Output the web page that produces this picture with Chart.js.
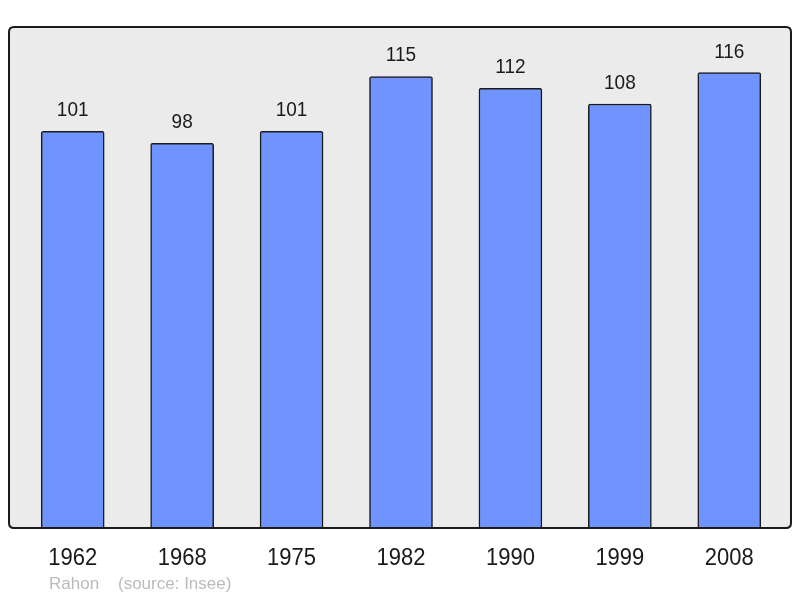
<!DOCTYPE html>
<html>
<head>
<meta charset="utf-8">
<script src="https://cdn.jsdelivr.net/npm/chart.js@4.4.1/dist/chart.umd.min.js"></script>
<style>
  html, body { margin: 0; padding: 0; background: #fff; }
  #chart { display: block; }
</style>
</head>
<body>
<canvas id="chart" width="800" height="598"></canvas>
<script>
// data
const years = ['1962', '1968', '1975', '1982', '1990', '1999', '2008'];
const population = [101, 98, 101, 115, 112, 108, 116];
const commune = 'Rahon';
const source = '(source: Insee)';

const yMax = Math.max(...population) * 1.1;

// stretched text, the original labels are a bit taller than wide
function drawText(ctx, txt, x, y, sy) {
  ctx.save();
  ctx.translate(x, y);
  ctx.scale(1, sy);
  ctx.fillText(txt, 0, 0);
  ctx.restore();
}

function roundRect(ctx, x, y, w, h, r) {
  ctx.beginPath();
  ctx.moveTo(x + r, y);
  ctx.lineTo(x + w - r, y);
  ctx.quadraticCurveTo(x + w, y, x + w, y + r);
  ctx.lineTo(x + w, y + h - r);
  ctx.quadraticCurveTo(x + w, y + h, x + w - r, y + h);
  ctx.lineTo(x + r, y + h);
  ctx.quadraticCurveTo(x, y + h, x, y + h - r);
  ctx.lineTo(x, y + r);
  ctx.quadraticCurveTo(x, y, x + r, y);
  ctx.closePath();
}

const framePlugin = {
  id: 'frame',
  beforeDatasetsDraw(chart) {
    const { ctx, chartArea: a } = chart;
    ctx.save();
    roundRect(ctx, a.left - 9, a.top, a.right - a.left + 16, a.bottom - a.top, 5);
    ctx.fillStyle = '#ebebeb';
    ctx.fill();
    ctx.restore();
  },
  afterDatasetsDraw(chart) {
    const { ctx, chartArea: a } = chart;
    const xs = chart.scales.x;
    const ys = chart.scales.y;
    ctx.save();
    roundRect(ctx, a.left - 9, a.top, a.right - a.left + 16, a.bottom - a.top, 5);
    ctx.strokeStyle = '#1a1a1a';
    ctx.lineWidth = 2;
    ctx.stroke();

    ctx.fillStyle = '#1a1a1a';
    ctx.textAlign = 'center';
    ctx.textBaseline = 'alphabetic';
    // values above bars
    ctx.font = '19px "Liberation Sans", Arial, sans-serif';
    population.forEach((v, i) => {
      drawText(ctx, String(v), xs.getPixelForValue(i), ys.getPixelForValue(v) - 15, 1.06);
    });
    // year labels
    ctx.font = '22px "Liberation Sans", Arial, sans-serif';
    years.forEach((y, i) => {
      drawText(ctx, y, xs.getPixelForValue(i), a.bottom + 37, 1.08);
    });
    // footer
    ctx.fillStyle = '#bbbbbb';
    ctx.textAlign = 'left';
    ctx.font = '17px "Liberation Sans", Arial, sans-serif';
    ctx.fillText(commune, 49, 589);
    ctx.fillText(source, 118, 589);
    ctx.restore();
  }
};

new Chart(document.getElementById('chart'), {
  type: 'bar',
  data: {
    labels: years,
    datasets: [{
      data: population,
      backgroundColor: '#7094ff',
      borderColor: '#1a1a1a',
      borderWidth: 1.5,
      borderSkipped: 'bottom',
      borderRadius: 2,
      barThickness: 63
    }]
  },
  options: {
    responsive: false,
    animation: false,
    devicePixelRatio: 1,
    layout: { padding: { left: 18, right: 16, top: 27, bottom: 70 } },
    plugins: {
      legend: { display: false },
      tooltip: { enabled: false }
    },
    scales: {
      x: { display: false },
      y: { display: false, min: 0, max: yMax }
    }
  },
  plugins: [framePlugin]
});
</script>
</body>
</html>
